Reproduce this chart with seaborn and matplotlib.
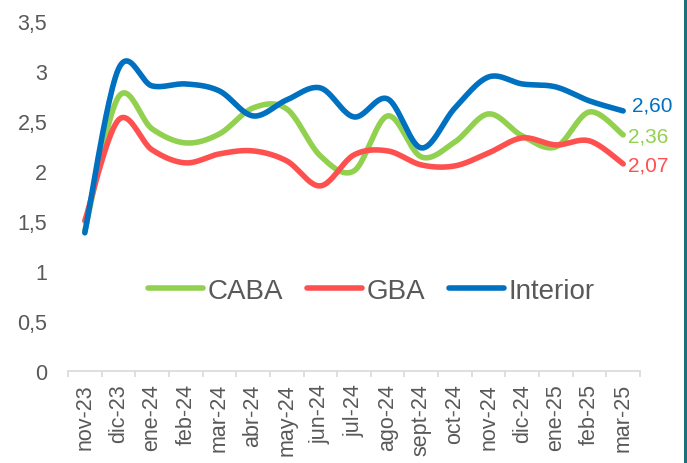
import numpy as np
import pandas as pd
import matplotlib
matplotlib.use("Agg")
import matplotlib.pyplot as plt
import seaborn as sns
from matplotlib.lines import Line2D
from matplotlib.patches import Rectangle

months = ['nov-23', 'dic-23', 'ene-24', 'feb-24', 'mar-24', 'abr-24', 'may-24',
          'jun-24', 'jul-24', 'ago-24', 'sept-24', 'oct-24', 'nov-24', 'dic-24',
          'ene-25', 'feb-25', 'mar-25']
caba = [1.40, 2.74, 2.42, 2.28, 2.37, 2.63, 2.62, 2.15, 2.00, 2.55, 2.14, 2.29,
        2.57, 2.35, 2.24, 2.59, 2.36]
gba = [1.50, 2.51, 2.21, 2.08, 2.17, 2.20, 2.10, 1.85, 2.16, 2.20, 2.06, 2.05,
       2.18, 2.33, 2.26, 2.30, 2.07]
interior = [1.38, 3.02, 2.85, 2.87, 2.80, 2.55, 2.71, 2.83, 2.54, 2.72, 2.23, 2.63,
            2.94, 2.87, 2.84, 2.70, 2.60]
series_names = ['CABA', 'GBA', 'Interior']
end_labels = ['2,36', '2,07', '2,60']
yticks = [0, 0.5, 1, 1.5, 2, 2.5, 3, 3.5]
ytick_labels = ['0', '0,5', '1', '1,5', '2', '2,5', '3', '3,5']

colors = {'CABA': '#92d050', 'GBA': '#ff5050', 'Interior': '#0070c0'}
text_color = '#595959'


def smooth_curve(values, n=24):
    """Excel-like smoothed line (cubic Bezier through the data points)."""
    pts = np.column_stack([np.arange(len(values)), np.asarray(values, float)])
    out = []
    for i in range(len(pts) - 1):
        p0 = pts[i - 1] if i > 0 else pts[i]
        p1 = pts[i]
        p2 = pts[i + 1]
        p3 = pts[i + 2] if i + 2 < len(pts) else pts[i + 1]
        c1 = p1 + (p2 - p0) / 6.0
        c2 = p2 - (p3 - p1) / 6.0
        t = np.linspace(0, 1, n, endpoint=(i == len(pts) - 2))[:, None]
        b = ((1 - t) ** 3) * p1 + 3 * ((1 - t) ** 2) * t * c1 + 3 * (1 - t) * t ** 2 * c2 + t ** 3 * p2
        out.append(b)
    return np.vstack(out)


frames = []
for name, vals in zip(series_names, [caba, gba, interior]):
    c = smooth_curve(vals)
    frames.append(pd.DataFrame({'x': c[:, 0], 'y': c[:, 1], 'serie': name,
                                'k': np.arange(len(c))}))
df = pd.concat(frames, ignore_index=True)

sns.set_theme(style='white')
plt.rcParams['font.family'] = ['Liberation Sans', 'DejaVu Sans']

fig = plt.figure(figsize=(6.87, 4.64), dpi=100)
ax = fig.add_axes([68 / 687, 1 - 371.7 / 464, (640 - 68) / 687, (371.7 - 22) / 464])

sns.lineplot(data=df, x='x', y='y', hue='serie', palette=colors, sort=False,
             estimator=None, units='serie', linewidth=4, legend=False, ax=ax,
             solid_capstyle='round')

ax.set_xlim(-0.5, len(months) - 0.5)
ax.set_ylim(0, 3.5)
ax.set_xlabel('')
ax.set_ylabel('')

ax.set_xticks(np.arange(len(months)))
ax.set_xticklabels(months, rotation=90, fontsize=15.5, color=text_color)
ax.set_xticks(np.arange(len(months) + 1) - 0.5, minor=True)
ax.tick_params(axis='x', which='major', length=0, pad=9)
ax.tick_params(axis='x', which='minor', length=4, width=1.2, color='#d9d9d9',
               direction='out', bottom=True)
ax.set_yticks(yticks)
ax.set_yticklabels(ytick_labels, fontsize=15.5, color=text_color)
ax.tick_params(axis='y', length=0, pad=15)

for s in ['top', 'right', 'left']:
    ax.spines[s].set_visible(False)
ax.spines['bottom'].set_color('#d9d9d9')
ax.spines['bottom'].set_linewidth(1.2)

last = len(months) - 1
offsets = {'CABA': (3.5, -1), 'GBA': (3.5, -1), 'Interior': (6.5, 4)}
for name, vals, lab in zip(series_names, [caba, gba, interior], end_labels):
    ax.annotate(lab, xy=(last, vals[-1]), xytext=offsets[name],
                textcoords='offset points', ha='left', va='center',
                fontsize=15, color=colors[name], annotation_clip=False)

handles = [Line2D([0], [0], color=colors[n], lw=4, solid_capstyle='round') for n in series_names]
ax.legend(handles, series_names, loc='center', bbox_to_anchor=(0.53, 0.228),
          ncol=3, frameon=False, fontsize=20, handlelength=2.0,
          handletextpad=0.15, columnspacing=0.85, labelcolor=text_color)

fig.add_artist(Rectangle((684 / 687, 0), 3 / 687, 1, transform=fig.transFigure,
                         color='#1d6f7e', lw=0))

fig.savefig('out.png', dpi=100)
